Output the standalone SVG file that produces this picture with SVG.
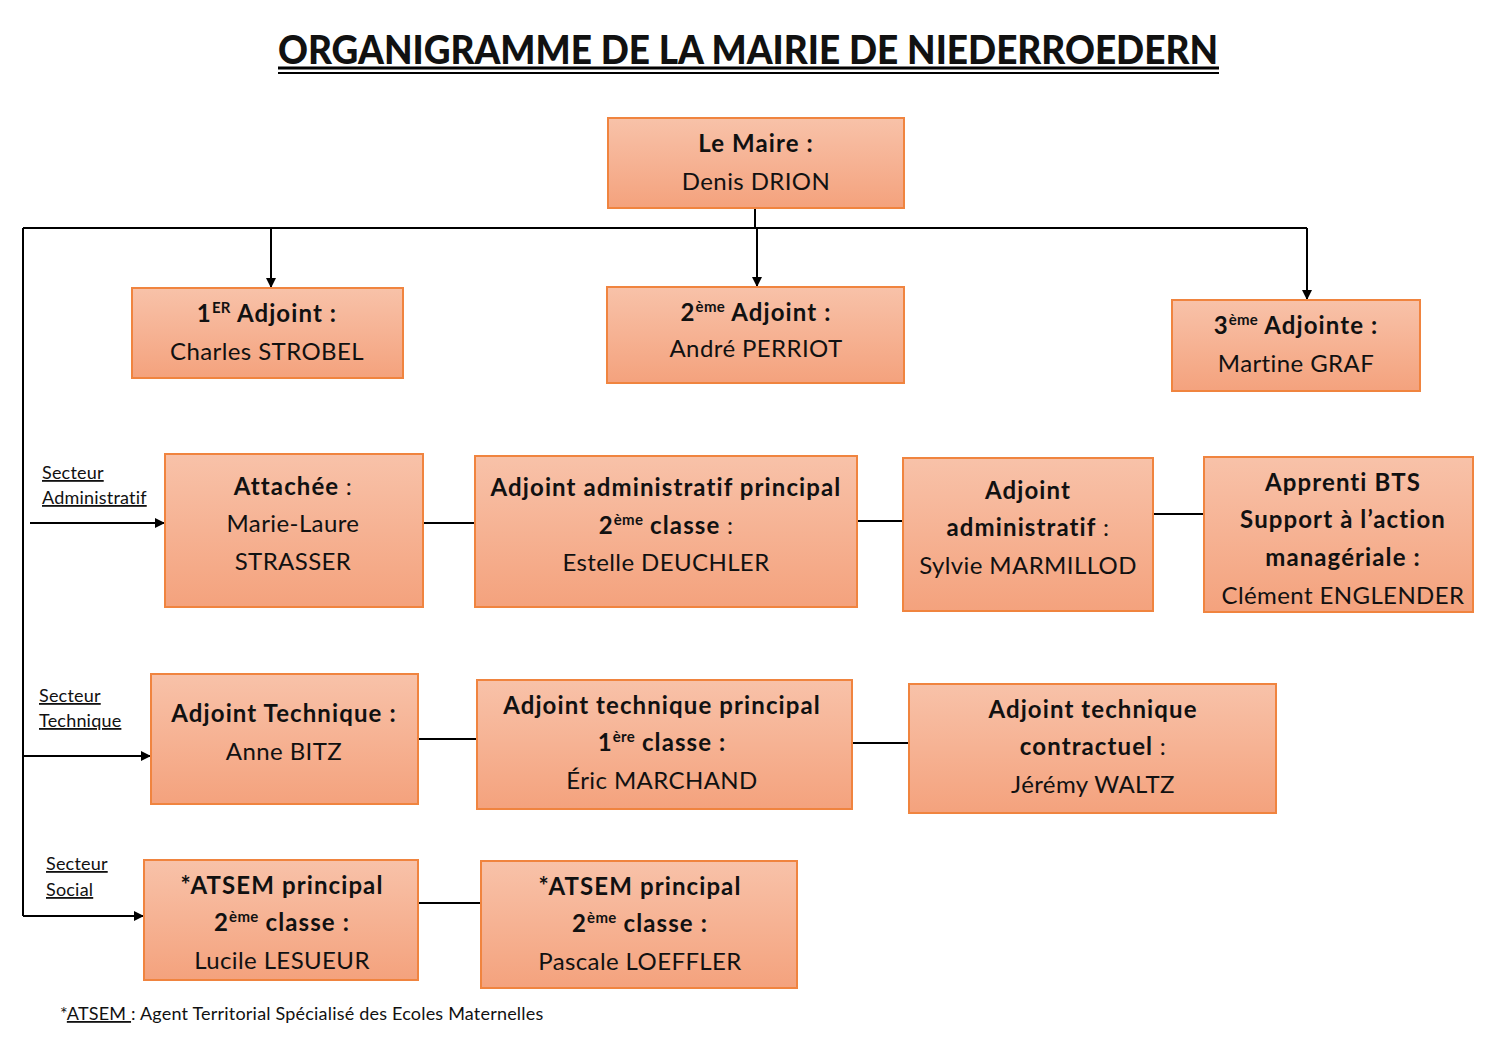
<svg xmlns="http://www.w3.org/2000/svg" width="1497" height="1058" viewBox="0 0 1497 1058">
<defs>
<linearGradient id="g" x1="0" y1="0" x2="0" y2="1">
<stop offset="0" stop-color="#F8C2A9"/>
<stop offset="1" stop-color="#F4A27D"/>
</linearGradient>
<marker id="ah" viewBox="0 0 10 10" refX="10" refY="5" markerWidth="10" markerHeight="10" markerUnits="userSpaceOnUse" orient="auto">
<path d="M0,0 L10,5 L0,10 z" fill="#000"/>
</marker>
<style>
.box{fill:url(#g);stroke:#F0843F;stroke-width:2}
text{font-family:Lato,"Open Sans","Liberation Sans",sans-serif;fill:#111}
.t{font-size:24px;text-anchor:middle;letter-spacing:0.4px}
.b{font-weight:bold;letter-spacing:1.1px}
.sup{font-size:15px;letter-spacing:0.3px}
.lbl{font-size:18px;text-decoration:underline;letter-spacing:0.2px}
.ln{stroke:#000;stroke-width:2;fill:none}
.arr{stroke:#000;stroke-width:2;fill:none;marker-end:url(#ah)}
</style>
</defs>
<rect width="1497" height="1058" fill="#fff"/>

<g id="title">
<text x="748" y="64" text-anchor="middle" font-size="40" font-weight="900" textLength="940" lengthAdjust="spacingAndGlyphs">ORGANIGRAMME DE LA MAIRIE DE NIEDERROEDERN</text>
<rect x="278" y="66.5" width="941" height="3" fill="#000"/>
<rect x="278" y="72" width="941" height="2" fill="#000"/>
</g>

<g id="connectors">
<path class="ln" d="M755,208 V228"/>
<path class="ln" d="M23,228 H1307"/>
<path class="ln" d="M23,228 V916"/>
<path class="arr" d="M271,228 V288"/>
<path class="arr" d="M757,228 V287"/>
<path class="arr" d="M1307,228 V300"/>
<path class="arr" d="M30,523 H165"/>
<path class="arr" d="M22,756 H151"/>
<path class="arr" d="M23,916 H144"/>
<path class="ln" d="M423,523 H475"/>
<path class="ln" d="M857,521 H903"/>
<path class="ln" d="M1153,514 H1204"/>
<path class="ln" d="M418,739 H477"/>
<path class="ln" d="M852,743 H909"/>
<path class="ln" d="M418,903 H481"/>
</g>

<g id="maire">
<rect class="box" x="608" y="118" width="296" height="90"/>
<text class="t b" x="756" y="152">Le Maire :</text>
<text class="t" x="756" y="190">Denis DRION</text>
</g>

<g id="adjoint1">
<rect class="box" x="132" y="288" width="271" height="90"/>
<text class="t b" x="267" y="322">1<tspan class="sup" dy="-9">ER</tspan><tspan dy="9"> Adjoint :</tspan></text>
<text class="t" x="267" y="360">Charles STROBEL</text>
</g>

<g id="adjoint2">
<rect class="box" x="607" y="287" width="297" height="96"/>
<text class="t b" x="756" y="321">2<tspan class="sup" dy="-9">ème</tspan><tspan dy="9"> Adjoint :</tspan></text>
<text class="t" x="756" y="357">André PERRIOT</text>
</g>

<g id="adjointe3">
<rect class="box" x="1172" y="300" width="248" height="91"/>
<text class="t b" x="1296" y="334">3<tspan class="sup" dy="-9">ème</tspan><tspan dy="9"> Adjointe :</tspan></text>
<text class="t" x="1296" y="372">Martine GRAF</text>
</g>

<g id="lbl-admin">
<text class="lbl" x="42" y="479">Secteur</text>
<text class="lbl" x="42" y="504">Administratif</text>
</g>
<g id="lbl-tech">
<text class="lbl" x="39" y="702">Secteur</text>
<text class="lbl" x="39" y="727">Technique</text>
</g>
<g id="lbl-social">
<text class="lbl" x="46" y="870">Secteur</text>
<text class="lbl" x="46" y="896">Social</text>
</g>

<g id="attachee">
<rect class="box" x="165" y="454" width="258" height="153"/>
<text class="t" x="293" y="495"><tspan class="b">Attachée</tspan> :</text>
<text class="t" x="293" y="532">Marie-Laure</text>
<text class="t" x="293" y="570">STRASSER</text>
</g>

<g id="adj-admin-princ">
<rect class="box" x="475" y="456" width="382" height="151"/>
<text class="t b" x="666" y="496">Adjoint administratif principal</text>
<text class="t" x="666" y="534"><tspan class="b">2</tspan><tspan class="b sup" dy="-9">ème</tspan><tspan class="b" dy="9"> classe</tspan> :</text>
<text class="t" x="666" y="571">Estelle DEUCHLER</text>
</g>

<g id="adj-admin">
<rect class="box" x="903" y="458" width="250" height="153"/>
<text class="t b" x="1028" y="499">Adjoint</text>
<text class="t" x="1028" y="536"><tspan class="b">administratif</tspan> :</text>
<text class="t" x="1028" y="574">Sylvie MARMILLOD</text>
</g>

<g id="apprenti">
<rect class="box" x="1204" y="457" width="269" height="155"/>
<text class="t b" x="1343" y="491">Apprenti BTS</text>
<text class="t b" x="1343" y="528">Support à l’action</text>
<text class="t b" x="1343" y="566">managériale :</text>
<text class="t" x="1343" y="604">Clément ENGLENDER</text>
</g>

<g id="adj-tech">
<rect class="box" x="151" y="674" width="267" height="130"/>
<text class="t b" x="284" y="722">Adjoint Technique :</text>
<text class="t" x="284" y="760">Anne BITZ</text>
</g>

<g id="adj-tech-princ">
<rect class="box" x="477" y="680" width="375" height="129"/>
<text class="t b" x="662" y="714">Adjoint technique principal</text>
<text class="t b" x="662" y="751">1<tspan class="sup" dy="-9">ère</tspan><tspan dy="9"> classe :</tspan></text>
<text class="t" x="662" y="789">Éric MARCHAND</text>
</g>

<g id="adj-tech-contr">
<rect class="box" x="909" y="684" width="367" height="129"/>
<text class="t b" x="1093" y="718">Adjoint technique</text>
<text class="t" x="1093" y="755"><tspan class="b">contractuel</tspan> :</text>
<text class="t" x="1093" y="793">Jérémy WALTZ</text>
</g>

<g id="atsem1">
<rect class="box" x="144" y="860" width="274" height="120"/>
<text class="t b" x="282" y="894">*ATSEM principal</text>
<text class="t b" x="282" y="931">2<tspan class="sup" dy="-9">ème</tspan><tspan dy="9"> classe :</tspan></text>
<text class="t" x="282" y="969">Lucile LESUEUR</text>
</g>

<g id="atsem2">
<rect class="box" x="481" y="861" width="316" height="127"/>
<text class="t b" x="640" y="895">*ATSEM principal</text>
<text class="t b" x="640" y="932">2<tspan class="sup" dy="-9">ème</tspan><tspan dy="9"> classe :</tspan></text>
<text class="t" x="640" y="970">Pascale LOEFFLER</text>
</g>

<g id="footnote">
<text x="60" y="1020" font-size="18" letter-spacing="0.2">*<tspan text-decoration="underline">ATSEM </tspan>: Agent Territorial Spécialisé des Ecoles Maternelles</text>
</g>
</svg>
